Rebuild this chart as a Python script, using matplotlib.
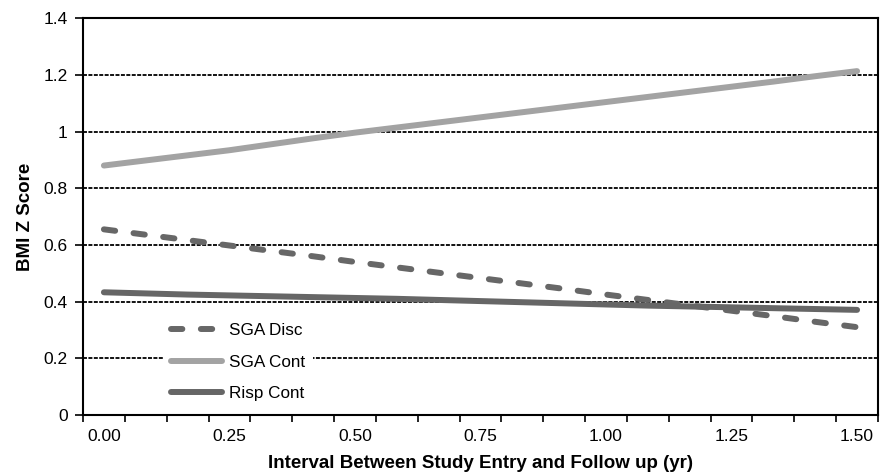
import matplotlib.pyplot as plt
import numpy as np

# months since study entry (Excel-style category axis, 0..18)
months = np.arange(19)
tick_labels = ["0.00", "0.25", "0.50", "0.75", "1.00", "1.25", "1.50"]

sga_disc = [0.655, 0.636, 0.617, 0.598, 0.579, 0.560, 0.540, 0.521, 0.502, 0.483,
            0.464, 0.445, 0.425, 0.406, 0.387, 0.368, 0.349, 0.329, 0.310]
sga_cont = [0.880, 0.898, 0.916, 0.934, 0.955, 0.976, 0.996, 1.014, 1.032, 1.050,
            1.068, 1.086, 1.104, 1.122, 1.140, 1.158, 1.176, 1.195, 1.213]
risp_cont = [0.433, 0.429, 0.425, 0.422, 0.419, 0.416, 0.413, 0.410, 0.406, 0.402,
             0.398, 0.394, 0.390, 0.386, 0.383, 0.380, 0.377, 0.374, 0.371]

plt.rcParams['font.family'] = ['Liberation Sans', 'DejaVu Sans']

fig = plt.figure(figsize=(8.8, 4.76), dpi=100)
ax = fig.add_axes([0.0943, 0.128, 0.9034, 0.834])

ax.plot(months, sga_disc, color='#676767', lw=4.3, ls=(0, (1.9, 3.1)),
        dash_capstyle='round', label='SGA Disc', zorder=3)
ax.plot(months, sga_cont, color='#a3a3a3', lw=4.3, solid_capstyle='round',
        label='SGA Cont', zorder=3)
ax.plot(months, risp_cont, color='#666666', lw=4.3, solid_capstyle='round',
        label='Risp Cont', zorder=3)

ax.set_xlim(-0.5, 18.5)
ax.set_ylim(0, 1.4)
ax.set_yticks(np.arange(0, 1.41, 0.2))
ax.set_yticklabels(["0", "0.2", "0.4", "0.6", "0.8", "1", "1.2", "1.4"])
for y in np.arange(0.2, 1.21, 0.2):
    ax.axhline(y, color='black', lw=1.3, ls=(0, (2.2, 0.8)), zorder=1)

# tick marks between categories, labels every 3rd month
ax.set_xticks(np.arange(-0.5, 19, 1))
ax.set_xticklabels([])
ax.set_xticks(months[::3], minor=True)
ax.set_xticklabels(tick_labels, minor=True)
ax.tick_params(axis='x', which='major', direction='out', length=5, width=1.2)
ax.tick_params(axis='x', which='minor', length=0, pad=10, labelsize=12.5)
ax.tick_params(axis='y', direction='out', length=6, width=1.2, labelsize=12.5, pad=5)

for s in ax.spines.values():
    s.set_linewidth(1.5)

ax.set_ylabel("BMI Z Score", fontsize=13.5, fontweight='bold', labelpad=7)
ax.set_xlabel("Interval Between Study Entry and Follow up (yr)", fontsize=13.5,
              fontweight='bold', labelpad=8)

leg = ax.legend(loc='lower left', bbox_to_anchor=(0.09, -0.005), fontsize=12.3,
                handlelength=3.0, handletextpad=0.4, labelspacing=0.95,
                frameon=True, facecolor='white', edgecolor='none', framealpha=1,
                borderpad=0.45)
leg.set_zorder(2)

fig.savefig("out.png", dpi=100)
